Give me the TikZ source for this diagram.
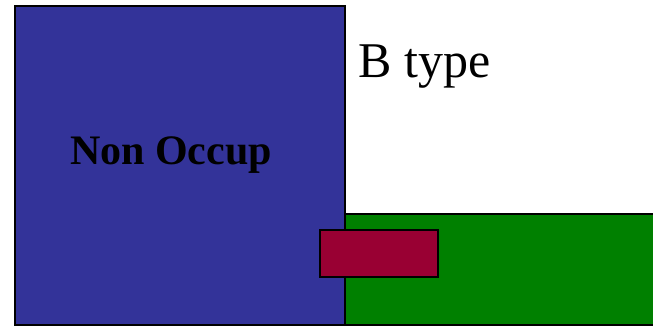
\documentclass[tikz,border=0pt]{standalone}
\usepackage{fontspec}
\setmainfont{Liberation Serif}
\definecolor{bluebox}{HTML}{333399}
\definecolor{greenbox}{HTML}{008000}
\definecolor{redbox}{HTML}{990033}
\begin{document}
\begin{tikzpicture}[x=1pt,y=-1pt,
  box/.style={draw=black,line width=2.5pt}]
\useasboundingbox (0,0) rectangle (653,326);
\fill[white] (0,0) rectangle (653,326);
\filldraw[box,fill=greenbox] (345,214) rectangle (660,325);
\filldraw[box,fill=bluebox] (15,6) rectangle (345,325);
\filldraw[box,fill=redbox] (320,230) rectangle (438,277);
\node (nonoccup) at (171,155) {\fontsize{42}{48}\selectfont\bfseries Non Occup};
\node[anchor=west] (btype) at (355,67) {\fontsize{50}{56}\selectfont B type};
\end{tikzpicture}
\end{document}
